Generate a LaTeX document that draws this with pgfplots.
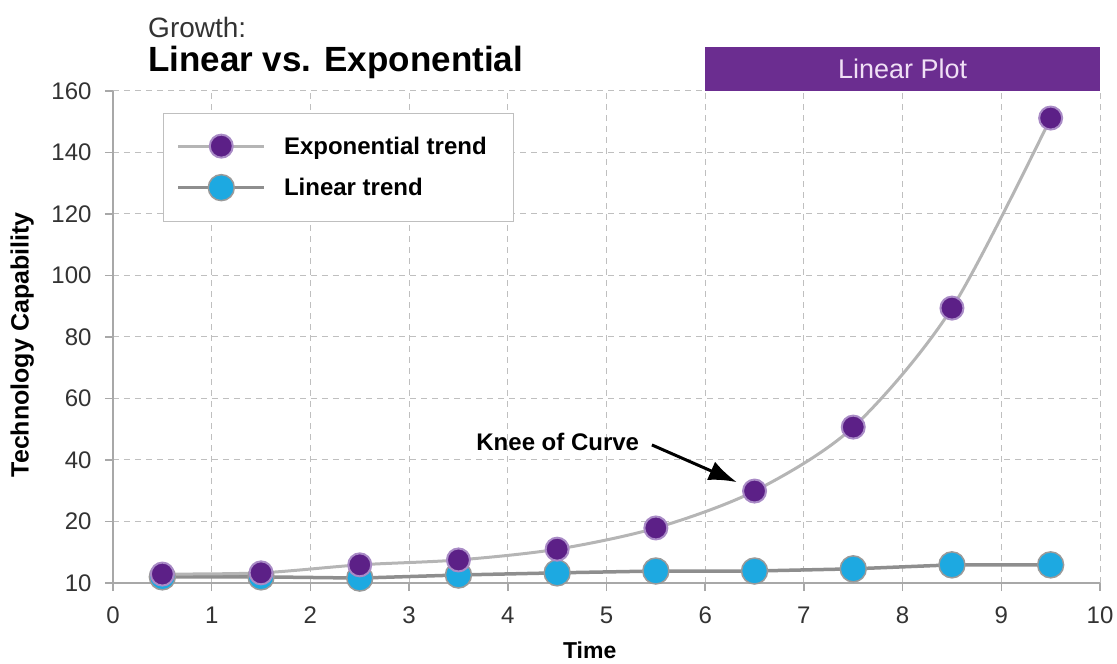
\documentclass[border=0pt]{standalone}
\usepackage{pgfplots}
\pgfplotsset{compat=1.18}
\usepackage{fontspec}
\setmainfont{Liberation Sans}
\usetikzlibrary{arrows.meta}
\definecolor{expfill}{HTML}{5C2087}
\definecolor{exphalo}{HTML}{A98BC6}
\definecolor{linfill}{HTML}{1DA9E1}
\definecolor{linedge}{HTML}{9A9A9A}
\definecolor{expline}{HTML}{B5B5B5}
\definecolor{linline}{HTML}{8E8E8E}
\definecolor{boxpurple}{HTML}{6B2D90}
\definecolor{boxtext}{HTML}{F0E0F5}
\definecolor{axgray}{HTML}{A8A8A8}
\definecolor{tickgray}{HTML}{333333}
\begin{document}
\begin{tikzpicture}
\begin{axis}[
  name=ax,
  scale only axis,
  width=987pt, height=492pt,
  xmin=0, xmax=10, ymin=0, ymax=160,
  clip=false,
  axis lines=left,
  axis line style={-, draw=axgray, line width=2pt},
  xtick={0,1,...,10},
  ytick={0,20,...,160},
  yticklabels={10,20,40,60,80,100,120,140,160},
  tick align=outside,
  major tick length=8pt,
  tick style={draw=axgray, line width=1.5pt},
  grid=major,
  major grid style={draw=gray!50, line width=1pt, dash pattern=on 6pt off 5pt},
  /pgf/number format/assume math mode=true,
  ticklabel style={font=\fontsize{24}{28}\selectfont, text=tickgray},
  xticklabel style={yshift=-12pt},
  yticklabel style={xshift=-10pt},
  xlabel={Time},
  ylabel={Technology Capability},
  xlabel style={font=\bfseries\fontsize{23}{27}\selectfont, at={(axis description cs:0.483,-0.136)}, anchor=center},
  ylabel style={font=\bfseries\fontsize{25}{29}\selectfont, at={(axis description cs:-0.092,0.484)}, anchor=center},
  reverse legend,
  legend cell align=left,
  legend style={at={(axis cs:0.507,152.8)}, anchor=north west, draw=gray!50, line width=1pt,
    font=\bfseries\fontsize{24}{28}\selectfont, inner xsep=13pt, inner ysep=21pt, row sep=17pt,
    /tikz/every odd column/.append style={column sep=16pt}},
  legend image code/.code={\draw[#1, mark repeat=2, mark phase=2] plot coordinates {(0pt,0pt) (43pt,0pt) (86pt,0pt)};},
]
\addplot[color=linline, line width=3.5pt, mark=*, mark size=13pt,
  mark options={fill=linfill, draw=linedge, line width=1.5pt}]
  coordinates {(0.5,2.0) (1.5,2.0) (2.5,1.6) (3.5,2.6) (4.5,3.3) (5.5,3.9) (6.5,3.9) (7.5,4.6) (8.5,5.9) (9.5,5.9)};
\addlegendentry{Linear trend}
\addplot[color=expline, line width=3pt, smooth, mark=*, mark size=11.5pt,
  mark options={fill=expfill, draw=exphalo, line width=2pt}]
  coordinates {(0.5,2.9) (1.5,3.3) (2.5,5.9) (3.5,7.5) (4.5,11.0) (5.5,17.9) (6.5,29.9) (7.5,50.7) (8.5,89.4) (9.5,151.2)};
\addlegendentry{Exponential trend\hspace*{12pt}}
% Linear Plot banner
\fill[boxpurple] (axis cs:6,160) rectangle (axis cs:10,174.3);
\node[text=boxtext, font=\fontsize{27}{31}\selectfont] at (axis cs:8,167.2) {Linear Plot};
% titles
\node[anchor=base west, inner sep=0pt, text=tickgray, font=\fontsize{28}{32}\selectfont] at (axis cs:0.355,177.5) {Growth:};
\node[anchor=base west, inner sep=0pt, font=\bfseries\fontsize{35}{40}\selectfont] at (axis cs:0.355,166.3) {Linear vs. Exponential};
% knee annotation
\node[anchor=base west, inner sep=0pt, font=\bfseries\fontsize{24}{28}\selectfont] at (axis cs:3.68,43.0) {Knee of Curve};
\draw[black, line width=3pt, -{Latex[length=28pt,width=20pt]}] (axis cs:5.46,44.9) -- (axis cs:6.32,32.8);
\end{axis}
\pgfresetboundingbox
\path[use as bounding box] ([shift={(-113pt,-81pt)}]ax.south west) rectangle ++(1117pt,664pt);
\end{tikzpicture}
\end{document}
